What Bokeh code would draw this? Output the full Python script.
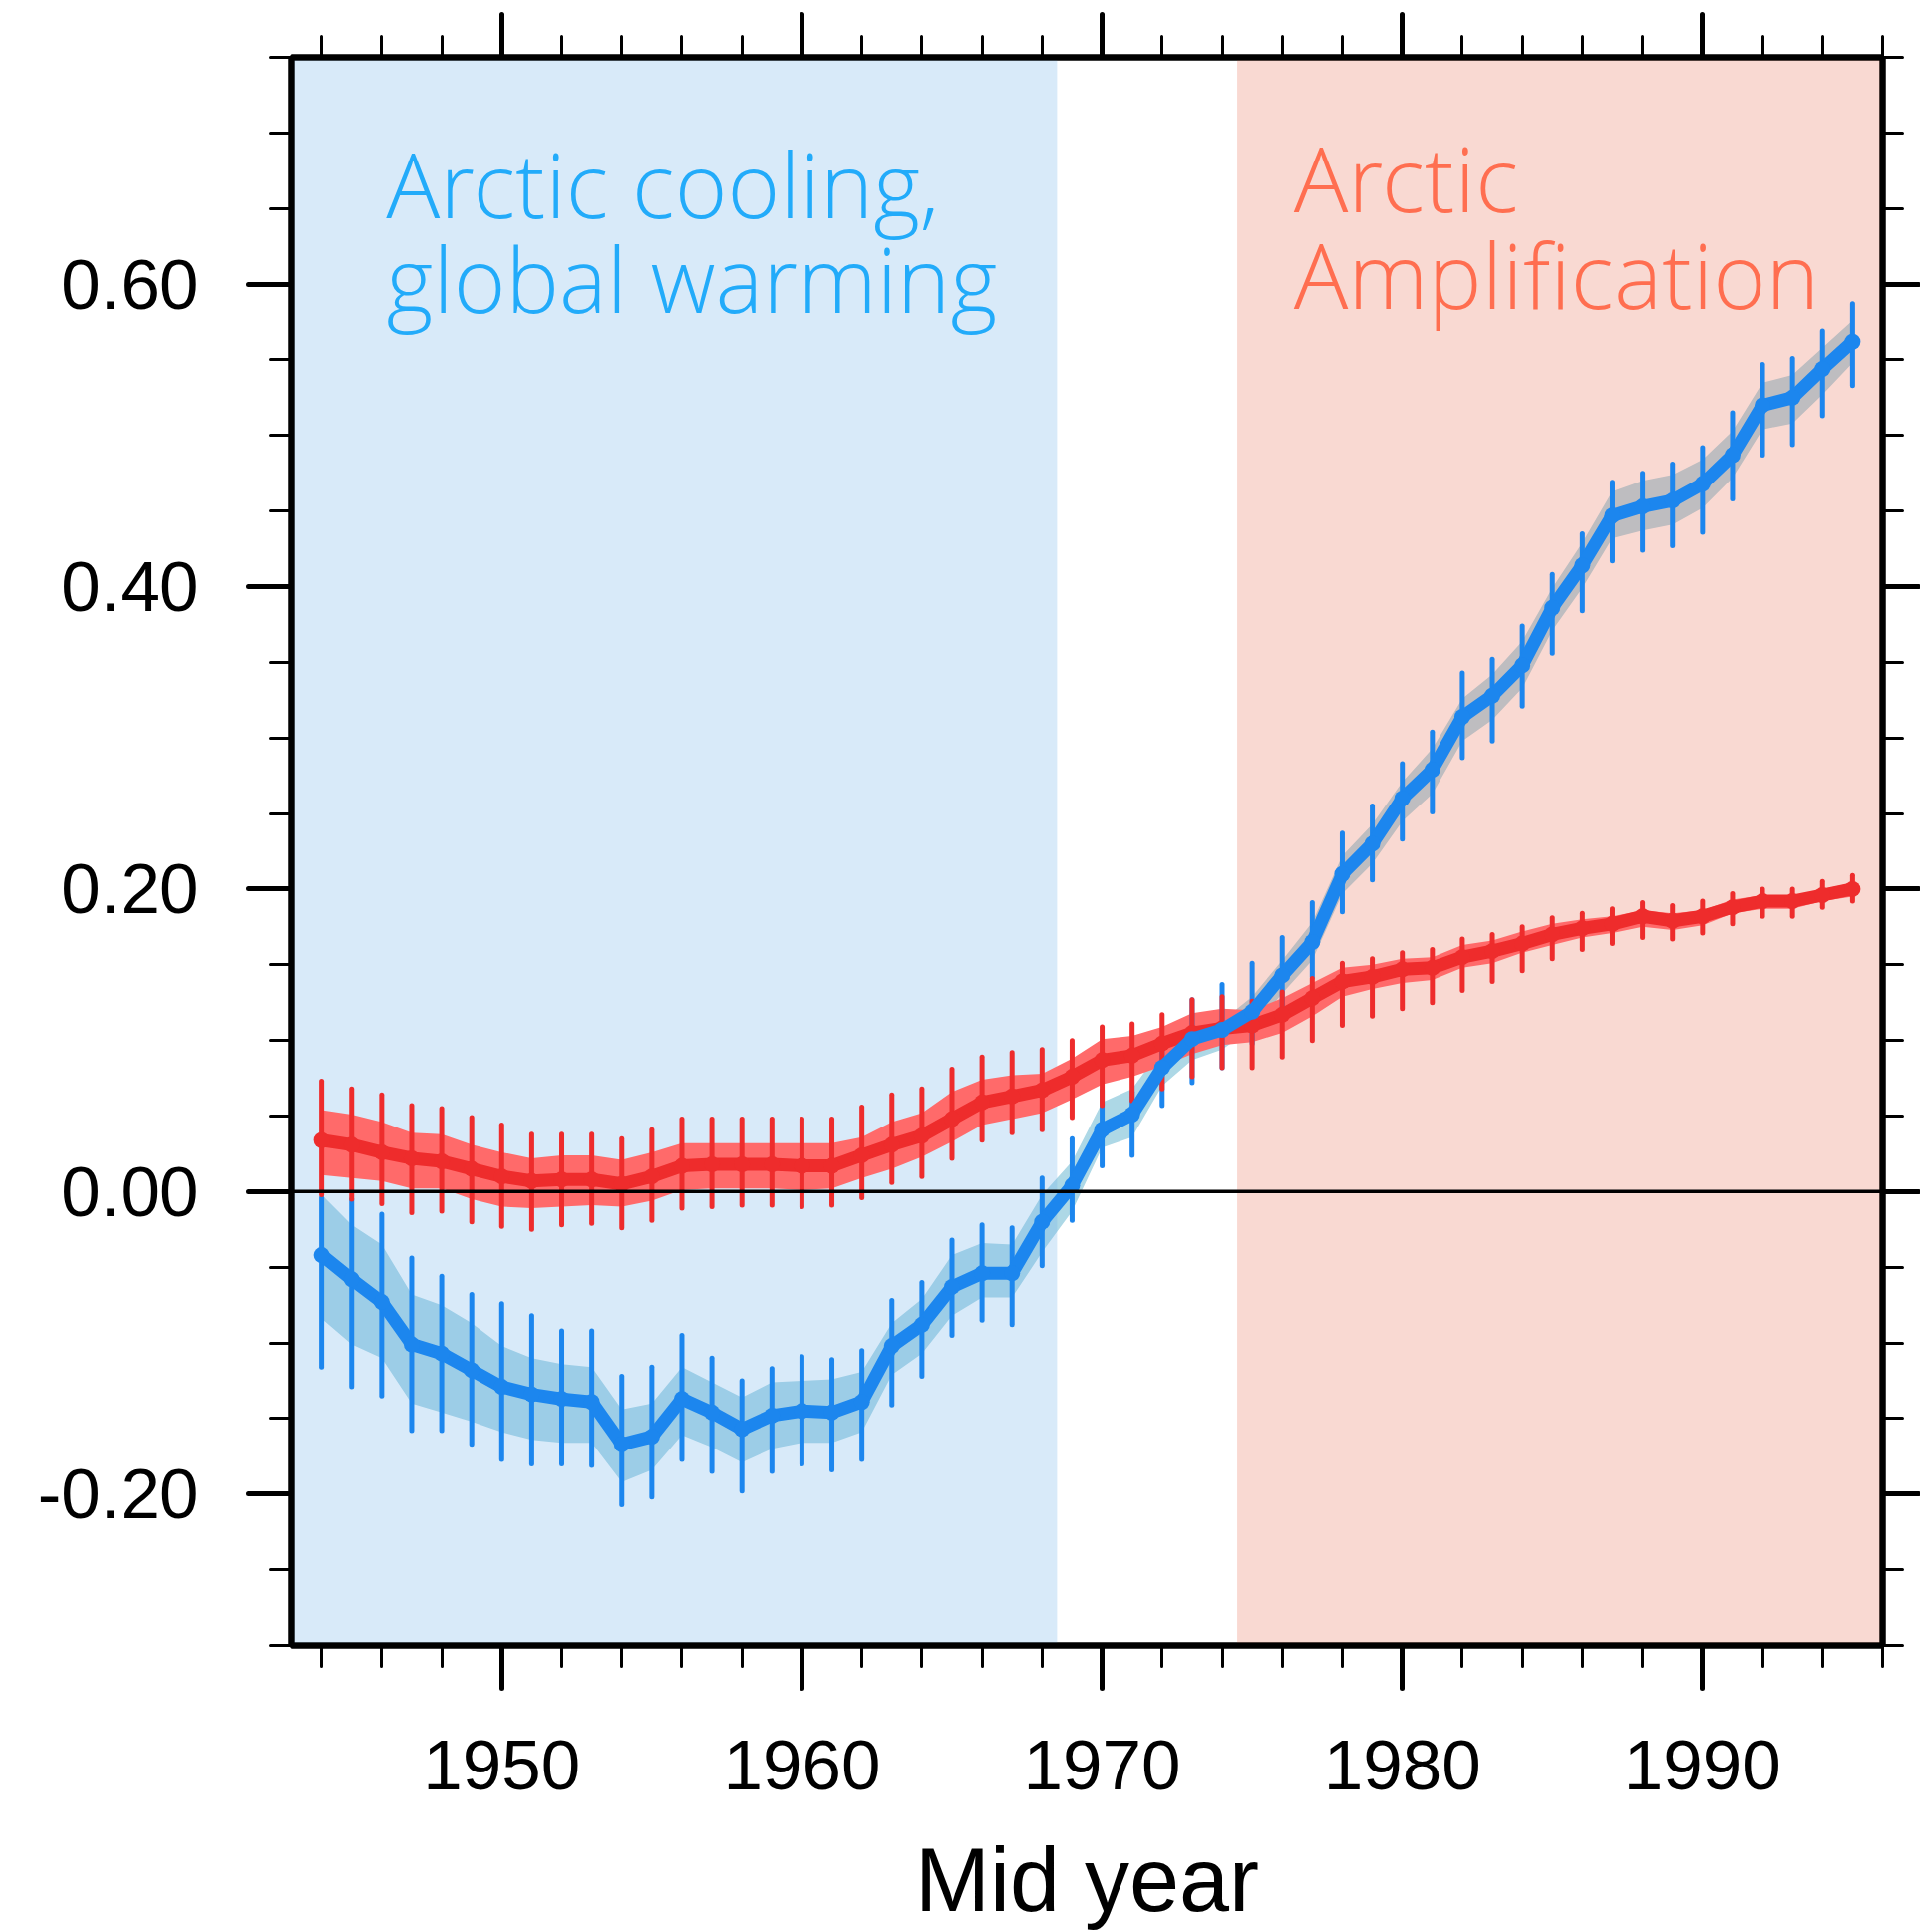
import numpy as np
from bokeh.plotting import figure
from bokeh.models import (Range1d, LinearAxis, FixedTicker, PrintfTickFormatter,
                          CustomJSTickFormatter, BoxAnnotation, Span, Label)
from bokeh.embed import file_html
from bokeh.resources import INLINE

# ---------------- data ----------------
years = list(range(1944, 1996))

red_mean = [0.034, 0.031, 0.026, 0.022, 0.020, 0.015, 0.010, 0.007, 0.008, 0.008,
            0.005, 0.010, 0.017, 0.018, 0.018, 0.018, 0.017, 0.017, 0.024, 0.031,
            0.037, 0.048, 0.059, 0.063, 0.067, 0.076, 0.087, 0.090, 0.098, 0.105,
            0.108, 0.110, 0.117, 0.128, 0.139, 0.142, 0.147, 0.148, 0.155, 0.159,
            0.164, 0.170, 0.174, 0.177, 0.182, 0.179, 0.182, 0.188, 0.192, 0.192,
            0.196, 0.200]
red_hi = [0.054, 0.051, 0.046, 0.039, 0.038, 0.031, 0.026, 0.022, 0.024, 0.024,
          0.021, 0.026, 0.032, 0.032, 0.032, 0.032, 0.032, 0.032, 0.036, 0.046,
          0.052, 0.066, 0.074, 0.077, 0.078, 0.088, 0.101, 0.103, 0.109, 0.118,
          0.121, 0.120, 0.128, 0.138, 0.148, 0.150, 0.154, 0.155, 0.163, 0.166,
          0.172, 0.177, 0.180, 0.182, 0.186, 0.184, 0.186, 0.193, 0.196, 0.195,
          0.200, 0.204]
red_lo = [0.011, 0.009, 0.007, 0.002, 0.002, -0.005, -0.010, -0.011, -0.010, -0.009,
          -0.010, -0.006, 0.001, 0.002, 0.002, 0.002, 0.001, 0.002, 0.009, 0.015,
          0.023, 0.033, 0.044, 0.048, 0.052, 0.061, 0.071, 0.076, 0.083, 0.091,
          0.097, 0.099, 0.105, 0.116, 0.129, 0.134, 0.138, 0.140, 0.148, 0.151,
          0.158, 0.163, 0.168, 0.171, 0.175, 0.173, 0.176, 0.184, 0.187, 0.187,
          0.192, 0.195]
red_max = [0.073, 0.068, 0.064, 0.057, 0.055, 0.049, 0.044, 0.038, 0.038, 0.038,
           0.035, 0.041, 0.048, 0.048, 0.048, 0.048, 0.048, 0.048, 0.056, 0.064,
           0.068, 0.081, 0.089, 0.092, 0.094, 0.100, 0.109, 0.111, 0.117, 0.127,
           0.129, 0.126, 0.132, 0.141, 0.151, 0.154, 0.158, 0.160, 0.167, 0.170,
           0.175, 0.181, 0.184, 0.187, 0.191, 0.189, 0.192, 0.197, 0.200, 0.200,
           0.205, 0.209]
red_min = [-0.002, -0.005, -0.008, -0.014, -0.013, -0.020, -0.023, -0.025, -0.022, -0.021,
           -0.024, -0.019, -0.011, -0.010, -0.009, -0.009, -0.010, -0.009, -0.004, 0.006,
           0.010, 0.022, 0.034, 0.039, 0.041, 0.049, 0.057, 0.060, 0.068, 0.076,
           0.082, 0.082, 0.089, 0.100, 0.110, 0.116, 0.121, 0.125, 0.133, 0.139,
           0.146, 0.154, 0.160, 0.164, 0.168, 0.167, 0.171, 0.177, 0.182, 0.182,
           0.188, 0.192]

blue_mean = [-0.042, -0.058, -0.073, -0.101, -0.107, -0.118, -0.129, -0.134, -0.137, -0.139,
             -0.167, -0.162, -0.137, -0.146, -0.157, -0.148, -0.145, -0.146, -0.139, -0.102,
             -0.088, -0.063, -0.054, -0.054, -0.020, 0.004, 0.041, 0.051, 0.082, 0.101,
             0.107, 0.119, 0.143, 0.165, 0.210, 0.230, 0.260, 0.279, 0.314, 0.328,
             0.348, 0.386, 0.414, 0.447, 0.453, 0.457, 0.468, 0.487, 0.520, 0.525,
             0.544, 0.562]
blue_hi = [-0.002, -0.022, -0.035, -0.068, -0.075, -0.087, -0.102, -0.110, -0.114, -0.116,
           -0.144, -0.140, -0.116, -0.126, -0.136, -0.126, -0.125, -0.124, -0.119, -0.087,
           -0.071, -0.042, -0.034, -0.035, -0.002, 0.020, 0.059, 0.068, 0.095, 0.107,
           0.113, 0.129, 0.153, 0.178, 0.222, 0.243, 0.271, 0.293, 0.326, 0.342,
           0.364, 0.399, 0.429, 0.463, 0.470, 0.474, 0.484, 0.503, 0.535, 0.540,
           0.558, 0.576]
blue_lo = [-0.084, -0.101, -0.110, -0.140, -0.146, -0.152, -0.159, -0.164, -0.166, -0.166,
           -0.192, -0.184, -0.161, -0.169, -0.179, -0.170, -0.166, -0.166, -0.159, -0.121,
           -0.107, -0.082, -0.070, -0.070, -0.040, -0.013, 0.029, 0.036, 0.070, 0.087,
           0.094, 0.108, 0.131, 0.153, 0.197, 0.217, 0.245, 0.263, 0.298, 0.312,
           0.333, 0.371, 0.399, 0.432, 0.437, 0.441, 0.452, 0.472, 0.504, 0.508,
           0.527, 0.548]
blue_max = [-0.004, -0.005, -0.015, -0.044, -0.056, -0.068, -0.074, -0.082, -0.092, -0.092,
            -0.122, -0.116, -0.095, -0.110, -0.125, -0.117, -0.109, -0.111, -0.105, -0.072,
            -0.060, -0.032, -0.022, -0.024, 0.009, 0.035, 0.067, 0.066, 0.093, 0.127,
            0.137, 0.151, 0.168, 0.191, 0.237, 0.255, 0.283, 0.304, 0.343, 0.352,
            0.374, 0.408, 0.435, 0.469, 0.475, 0.481, 0.492, 0.515, 0.547, 0.551,
            0.569, 0.587]
blue_min = [-0.116, -0.129, -0.135, -0.158, -0.158, -0.167, -0.177, -0.180, -0.180, -0.181,
            -0.207, -0.202, -0.177, -0.185, -0.198, -0.185, -0.180, -0.184, -0.177, -0.141,
            -0.122, -0.095, -0.085, -0.088, -0.049, -0.019, 0.017, 0.024, 0.057, 0.072,
            0.082, 0.098, 0.118, 0.142, 0.185, 0.206, 0.233, 0.251, 0.287, 0.298,
            0.321, 0.356, 0.384, 0.417, 0.424, 0.427, 0.436, 0.458, 0.487, 0.494,
            0.513, 0.533]

# shaded periods
cooling_end = 1968.5
amplification_start = 1974.5

# axes
x_start, x_end = 1943, 1996
y_start, y_end = -0.30, 0.75
x_major = [1950, 1960, 1970, 1980, 1990]
x_minor = list(range(1944, 1997, 2))
y_major = [-0.2, 0.0, 0.2, 0.4, 0.6]
y_minor = [round(-0.30 + 0.05 * i, 2) for i in range(22)]
x_title = "Mid year"

# annotation texts
cool_text = ["Arctic cooling,", "global warming"]
amp_text = ["Arctic", "Amplification"]

# colours
RED_LINE = "#EE2C2C"
RED_BAND = "#FF6A6A"
BLUE_LINE = "#1C86EE"
BLUE_BAND = "#ADD8E6"
COOL_BG = "#6EB1E9"
AMP_BG = "#EA775E"
COOL_TXT = "#22ABFA"
AMP_TXT = "#FF6E50"

TICK_FONT = "Liberation Sans"
ANNOT_FONT = "'Noto Sans Light', 'Open Sans Light', 'Roboto Light', 'Noto Sans'"

# ---------------- figure ----------------
p = figure(width=1926, height=1938,
           x_range=Range1d(x_start, x_end), y_range=Range1d(y_start, y_end),
           output_backend="svg", toolbar_location=None,
           x_axis_location=None, y_axis_location=None,
           min_border_left=292, min_border_right=38,
           min_border_top=57, min_border_bottom=287)
p.grid.visible = False
p.background_fill_color = "white"
p.border_fill_color = "white"
p.outline_line_color = "black"
p.outline_line_width = 6


def style_axis(ax, show_labels, major_out=43, minor_out=21):
    ax.axis_line_width = 6
    ax.axis_line_color = "black"
    ax.major_tick_line_width = 5
    ax.minor_tick_line_width = 3
    ax.major_tick_line_color = "black"
    ax.minor_tick_line_color = "black"
    ax.major_tick_in = 0
    ax.minor_tick_in = 0
    ax.major_tick_out = major_out
    ax.minor_tick_out = minor_out
    ax.major_tick_line_cap = "round"
    ax.minor_tick_line_cap = "round"
    ax.major_label_text_font = TICK_FONT
    ax.major_label_text_color = "black"
    ax.major_label_text_font_size = "71px"
    if not show_labels:
        ax.formatter = CustomJSTickFormatter(code="return ''")
        ax.major_label_standoff = 0


xt = FixedTicker(ticks=x_major, minor_ticks=x_minor)
yt = FixedTicker(ticks=y_major, minor_ticks=y_minor)

bottom = LinearAxis(ticker=xt)
style_axis(bottom, True)
bottom.major_label_standoff = 52
bottom.axis_label = x_title
bottom.axis_label_text_font = TICK_FONT
bottom.axis_label_text_font_size = "90px"
bottom.axis_label_text_font_style = "normal"
bottom.axis_label_text_color = "black"
bottom.axis_label_standoff = 38
p.add_layout(bottom, "below")

top = LinearAxis(ticker=xt)
style_axis(top, False)
p.add_layout(top, "above")

left = LinearAxis(ticker=yt, formatter=PrintfTickFormatter(format="%.2f"))
style_axis(left, True)
left.major_label_standoff = 50
p.add_layout(left, "left")

right = LinearAxis(ticker=yt)
style_axis(right, False, major_out=36, minor_out=20)
p.add_layout(right, "right")

# blue band goes first (underlay) so that the period shading tints it
p.varea(x=years, y1=blue_lo, y2=blue_hi, fill_color=BLUE_BAND, fill_alpha=1.0,
        level="underlay")

p.add_layout(BoxAnnotation(right=cooling_end, fill_color=COOL_BG, fill_alpha=0.27,
                           line_color=None, level="underlay"))
p.add_layout(BoxAnnotation(left=amplification_start, fill_color=AMP_BG, fill_alpha=0.28,
                           line_color=None, level="underlay"))

# red band
p.varea(x=years, y1=red_lo, y2=red_hi, fill_color=RED_BAND, fill_alpha=1.0)

# ensemble member strips
p.segment(x0=years, y0=blue_min, x1=years, y1=blue_max, line_color=BLUE_LINE,
          line_width=5, line_cap="round")
p.segment(x0=years, y0=red_min, x1=years, y1=red_max, line_color=RED_LINE,
          line_width=5, line_cap="round")

# ensemble means
p.line(years, red_mean, line_color=RED_LINE, line_width=13, line_join="round")
p.scatter(years, red_mean, size=16, marker="circle", fill_color=RED_LINE, line_color=None)
p.line(years, blue_mean, line_color=BLUE_LINE, line_width=13, line_join="round")
p.scatter(years, blue_mean, size=16, marker="circle", fill_color=BLUE_LINE, line_color=None)

# zero line
p.add_layout(Span(location=0, dimension="width", line_color="black", line_width=3.5))

# annotations (text centre lines)
cool_x, cool_y = 1946.15, [0.6665, 0.6040]
amp_x, amp_y = 1976.38, [0.6703, 0.6066]
for t, yy in zip(cool_text, cool_y):
    p.add_layout(Label(x=cool_x, y=yy, text=t, text_font=ANNOT_FONT,
                       text_font_size="90px", text_color=COOL_TXT,
                       text_baseline="middle", text_align="left"))
for t, yy in zip(amp_text, amp_y):
    p.add_layout(Label(x=amp_x, y=yy, text=t, text_font=ANNOT_FONT,
                       text_font_size="91px", text_color=AMP_TXT,
                       text_baseline="middle", text_align="left"))

open("out.html", "w").write(file_html(p, INLINE))
